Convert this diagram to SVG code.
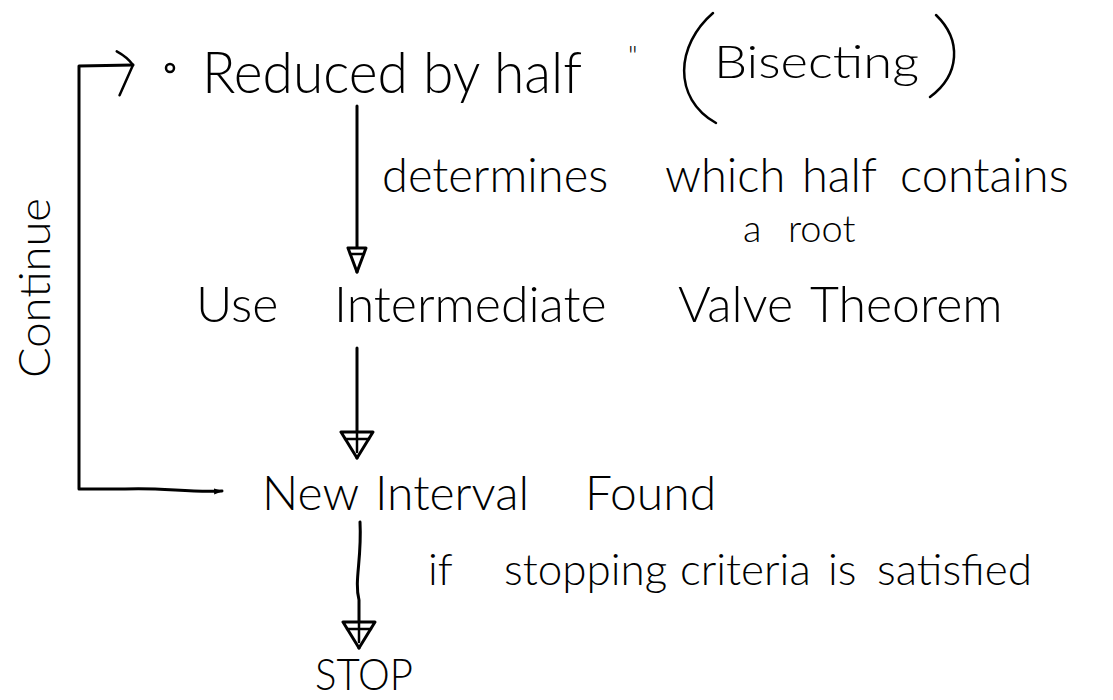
<svg xmlns="http://www.w3.org/2000/svg" width="1113" height="700" viewBox="0 0 1113 700">
<style>
text { font-family: Lato, "Liberation Sans", "DejaVu Sans", sans-serif; font-weight: 300; fill: #000; }
.ln { fill: none; stroke: #000; stroke-width: 3; stroke-linecap: round; stroke-linejoin: round; }
.pen { fill: none; stroke: #000; stroke-width: 2.5; stroke-linecap: round; stroke-linejoin: round; }
.head { fill: #fff; stroke: #000; stroke-width: 3; stroke-linejoin: round; }
</style>
<defs>
<marker id="triL" viewBox="0 0 30 36" refX="28" refY="18" markerWidth="30" markerHeight="36" markerUnits="userSpaceOnUse" orient="auto">
<path class="head" d="M2,2 L28,18 L2,34 Z"/>
<path class="pen" d="M9,6 L9,30 M2,18 L22,18"/>
</marker>
<marker id="triS" viewBox="0 0 28 22" refX="26" refY="11" markerWidth="28" markerHeight="22" markerUnits="userSpaceOnUse" orient="auto">
<path class="head" d="M2,2 L26,11 L2,20 Z"/>
<path class="pen" d="M8,4 L8,18"/>
</marker>
<marker id="chev" viewBox="0 0 22 50" refX="19" refY="16" markerWidth="22" markerHeight="50" markerUnits="userSpaceOnUse" orient="auto">
<path class="pen" d="M3,2 C10,6 15,10 19,16 L5,46"/>
</marker>
<marker id="dot" viewBox="0 0 10 10" refX="8" refY="5" markerWidth="10" markerHeight="10" markerUnits="userSpaceOnUse" orient="auto-start-reverse">
<path d="M0,2 L9,5 L0,8 Z" fill="#000"/>
</marker>
</defs>

<g id="connectors">
<path id="loop" class="ln" d="M222,491 C190,493 160,487 125,489 L79,489 L79,66 L133,65" marker-start="url(#dot)" marker-end="url(#chev)"/>
<path id="e1" class="ln" d="M357,106 L357,272" marker-end="url(#triS)"/>
<path id="e2" class="ln" d="M357,348 L357,458" marker-end="url(#triL)"/>
<path id="e3" class="ln" d="M360,522 C362,560 354,580 359,600 L359,648" marker-end="url(#triL)"/>
<text id="lbl-continue" font-size="44" transform="translate(50,378) rotate(-90)" textLength="180" lengthAdjust="spacingAndGlyphs">Continue</text>
<text id="lbl-determines" font-size="47" y="192"><tspan x="382">determines</tspan><tspan x="665">which</tspan><tspan x="802">half</tspan><tspan x="900">contains</tspan></text>
<text id="lbl-root" font-size="38" y="242"><tspan x="743">a</tspan><tspan x="788">root</tspan></text>
<text id="lbl-stop" font-size="44" y="585"><tspan x="428">if</tspan><tspan x="504">stopping</tspan><tspan x="680">criteria</tspan><tspan x="828">is</tspan><tspan x="877">satisfied</tspan></text>
</g>

<g id="n-reduced">
<circle cx="170" cy="68" r="4" class="pen"/>
<text x="202" y="93" font-size="57" textLength="380" lengthAdjust="spacingAndGlyphs">Reduced by half</text>
<text x="628" y="66" font-size="28" font-weight="700">"</text>
<path class="pen" d="M713,13 C676,45 672,98 716,123"/>
<text x="714" y="78" font-size="46" textLength="205" lengthAdjust="spacingAndGlyphs">Bisecting</text>
<path class="pen" d="M936,15 C962,40 960,75 930,97"/>
</g>

<g id="n-ivt">
<text y="322" font-size="50"><tspan x="196">Use</tspan><tspan x="334">Intermediate</tspan><tspan x="678">Valve</tspan><tspan x="810">Theorem</tspan></text>
</g>

<g id="n-new">
<text y="510" font-size="48"><tspan x="262">New</tspan><tspan x="375">Interval</tspan><tspan x="585">Found</tspan></text>
</g>

<g id="n-stop">
<text x="315" y="690" font-size="44" textLength="98" lengthAdjust="spacingAndGlyphs">STOP</text>
</g>
</svg>
